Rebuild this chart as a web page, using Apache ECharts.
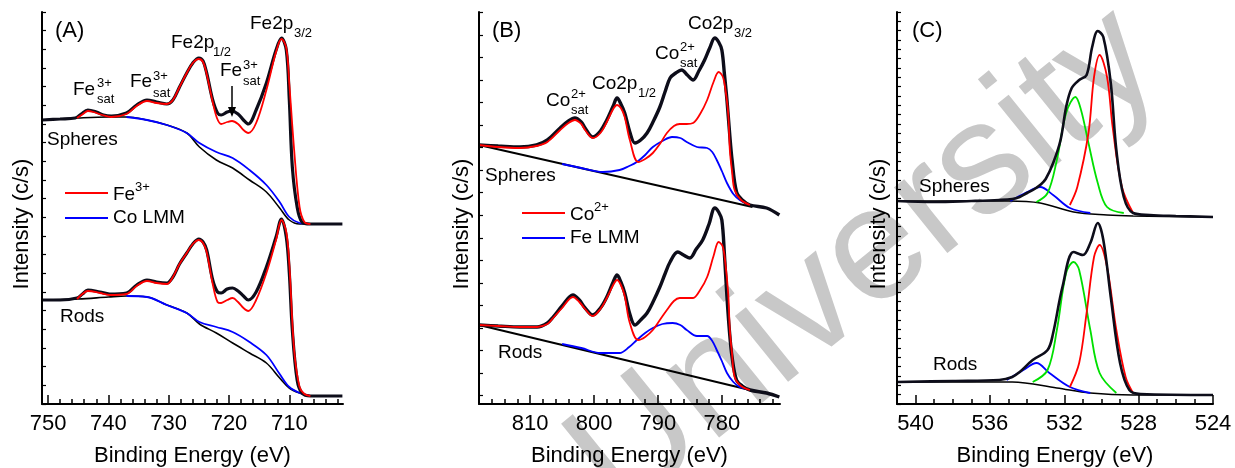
<!DOCTYPE html>
<html><head><meta charset="utf-8">
<script src="https://cdn.jsdelivr.net/npm/echarts@6/dist/echarts.min.js"></script>
<style>html,body{margin:0;padding:0;background:#fff}#c{width:1235px;height:468px}</style>
</head><body><div id="c"></div>
<script>
// ---------- tick labels ----------
const ticksA = [750, 740, 730, 720, 710];
const minorA = [702,704,706,708,712,714,716,718,722,724,726,728,732,734,736,738,742,744,746,748];
const ticksB = [810, 800, 790, 780];
const minorB = [772,774,776,778,782,784,786,788,792,794,796,798,802,804,806,808,812,814,816,818];
const ticksC = [540, 536, 532, 528, 524];
const minorC = [525,526,527,529,530,531,533,534,535,537,538,539,541];

// ---------- Panel A: Fe 2p (eV, intensity a.u.) ----------
const A_sph_exp = [[751,284],[748,285],[745.5,286],[744.5,290],[743.4,294],[742,292],[740.8,289],[739.5,288],[737,291],[735.3,299],[733.6,304],[732,302],[730.3,300],[729.3,304],[728.2,317],[727,331],[726,341],[725,346],[724.3,343],[723.7,331],[722.7,304],[721.9,291],[721.3,289],[720.3,292],[719.5,293],[718.5,290],[717.6,284],[716.8,280],[715.5,294],[713.8,321],[712.2,354],[711.3,366],[710.5,354],[710,304],[709.5,237],[708.7,197],[707.9,182],[706.5,180],[704,180],[701.2,180]];
const A_sph_fit = [[745.2,286],[744.2,290],[743.4,293],[742.5,292],[741,289],[739.5,287],[737,290],[735.3,298],[733.6,303],[732,301],[730.3,300],[729.3,304],[728.2,317],[727,331],[726,341],[725,345],[724.3,342],[723.7,330],[722.7,302],[722,286],[721.3,280],[720.3,282],[719.5,283],[718.5,280],[717.6,274],[716.8,271],[715.5,281],[713.8,314],[712.2,352],[711.3,365],[710.5,356],[710,320],[709.2,254],[708.3,197],[707.5,182],[706.5,180]];
const A_sph_bg  = [[751,284],[745,286],[740,287],[737,287],[733.6,284],[730.3,279],[727,271],[724.9,257],[722.1,244],[719.4,236],[716.6,224],[713.8,212],[711.6,196],[710,184],[708.3,180],[706.5,180]];
const A_sph_lmm = [[737,287],[733.6,284],[730.3,279],[727,271],[724.9,261],[722.1,252],[719.4,246],[716.6,234],[713.8,219],[711.6,202],[710,187],[708.3,181],[706.5,180]];

const A_rod_exp = [[751,104],[748,104],[745.2,106],[744.3,110],[743.4,114],[741.4,112],[739.8,110],[737,111],[735.3,119],[733.6,124],[732,122],[730.3,121],[729.3,127],[728.2,140],[727,151],[726,160],[725,165],[724.3,162],[723.7,154],[722.7,124],[721.9,112],[721.3,111],[720.3,115],[719.4,116],[718.5,113],[717.6,108],[716.8,104],[715.5,112],[713.8,137],[712.2,167],[711.3,185],[710.5,167],[710,131],[709.5,74],[708.7,24],[707.9,11],[706.5,8],[704,8],[701.2,8]];
const A_rod_fit = [[745.2,105],[744.3,110],[743.4,113],[741.4,111],[739.8,109],[737,110],[735.3,118],[733.6,123],[732,121],[730.3,120],[729.3,127],[728.2,140],[727,151],[726,160],[725,164],[724.3,161],[723.7,152],[722.7,120],[721.9,102],[721.3,101],[720.3,104],[719.4,106],[718.5,102],[717.6,96],[716.8,93],[715.5,104],[713.8,131],[712.2,164],[711.3,184],[710.5,172],[710,140],[709.2,54],[708.3,17],[707.5,10],[706.5,8]];
const A_rod_bg  = [[751,104],[745,105],[740,107],[737,108],[733.6,107],[730.3,99],[727,91],[724.9,80],[722.1,71],[719.4,61],[716.6,51],[713.8,41],[711.6,26],[710,16],[708.3,11],[706.5,8]];
const A_rod_lmm = [[737,108],[733.6,107],[730.3,99],[727,91],[724.9,82],[722.1,77],[719.4,72],[716.6,62],[713.8,49],[711.6,30],[710,17],[708.3,11],[706.5,8]];

// ---------- Panel B: Co 2p ----------
const B_sph_exp = [[818,259],[815,258],[811.6,257],[809,259],[807.3,264],[805.3,276],[804,283],[803,286],[802,282],[801.4,276],[800.2,267],[799,273],[798,284],[797,298],[796.4,306],[795.8,300],[795.2,291],[794.4,272],[793.6,261],[792.7,264],[791.7,271],[790.7,283],[789.7,297],[788.9,312],[788.1,326],[787.2,331],[786.3,334],[785.4,329],[784.5,324],[783.6,333],[782.7,344],[781.9,356],[781.1,366],[780.5,362],[780,354],[779.6,330],[779.2,304],[778.8,272],[778.4,244],[777.7,212],[776.8,204],[775.6,199],[773,196],[771,189]];
const B_sph_co  = [[818,259],[815,257],[811.6,256],[809,258],[807.3,262],[805.3,274],[804,281],[803,284],[802,280],[801.4,274],[800.2,266],[799,271],[798,282],[797,295],[796.4,299],[795.8,296],[795.2,287],[794.4,264],[793.1,242],[792,245],[790.8,251],[789.7,260],[788.6,271],[787.5,278],[786.6,280],[785.5,280],[784.5,281],[783.4,290],[782.3,304],[781.3,322],[780.5,332],[779.9,328],[779.5,317],[779,290],[778.75,254],[778.4,232],[778,214],[777,204],[775.6,199]];
const B_sph_lmm = [[805,240],[802,236],[798.6,232],[796,234],[794.5,238],[793.3,242],[792,249],[790.8,257],[789.3,263],[787.8,267],[786.5,266],[785.5,262],[783.9,257],[782.3,256],[781.5,252],[780.8,244],[780,233],[779.2,221],[778.2,210],[777.2,204],[775.6,199]];
const B_sph_bg  = [[818,259],[775.2,197]];

const B_rod_exp = [[818,79],[815,78],[811.6,77],[808.9,77],[807.3,81],[806.4,87],[805,98],[803.3,109],[802.3,104],[801.4,96],[800.2,89],[799,96],[798,107],[797,122],[796.4,129],[795.8,122],[795.2,111],[794.4,90],[793.6,79],[792.7,84],[791.7,91],[790.7,103],[789.7,117],[788.9,130],[788.1,142],[786.9,152],[786,149],[785,146],[784,155],[783,164],[782,180],[781.1,196],[780.5,192],[780,184],[779.6,150],[779.2,107],[778.8,72],[778.4,47],[777.7,24],[776.8,18],[775.6,14],[773,11],[771,7]];
const B_rod_co  = [[818,79],[815,78],[811.6,77],[808.9,77],[807.3,80],[806.4,86],[805,96],[803.3,107],[802.3,102],[801.4,95],[800.2,88],[799,95],[798,106],[797,119],[796.4,124],[795.8,119],[795.2,108],[794.4,81],[793.1,64],[792,67],[790.8,74],[789.7,84],[788.6,94],[787.5,103],[786.6,106],[785.5,106],[784.5,106],[783.4,114],[782.3,127],[781.3,148],[780.5,162],[779.9,158],[779.5,144],[779,110],[778.75,74],[778.4,50],[778,27],[777,18],[775.6,14]];
const B_rod_lmm = [[805,60],[802,56],[799,51],[796,51],[794.5,57],[793.3,64],[792,71],[790.8,76],[789.3,80],[787.7,81],[786.5,79],[785.5,74],[783.9,68],[782.3,68],[781.5,63],[780.8,54],[780,43],[779.2,31],[778.2,22],[777.2,17],[775.6,14]];
const B_rod_bg  = [[818,79],[775.6,14]];

// ---------- Panel C: O 1s ----------
const C_sph_env   = [[541,203],[539,202],[537,203],[535.5,204],[534.8,205],[534.4,207],[534,211],[533.6,215],[533.3,219],[533,225],[532.6,241],[532.2,264],[531.9,297],[531.6,316],[531.2,324],[530.8,329],[530.5,357],[530.2,373],[529.9,367],[529.5,321],[529.2,254],[528.8,207],[528.3,191],[527.4,189],[526,188],[524,187]];
const C_sph_green = [[533.5,202],[532.9,211],[532.4,244],[531.9,291],[531.4,307],[531.1,294],[530.7,261],[530.2,221],[529.7,197],[528.8,191]];
const C_sph_red   = [[531.7,199],[531.3,217],[530.7,271],[530.4,327],[530.1,349],[529.7,327],[529.4,277],[528.9,217],[528.3,191]];
const C_sph_blue  = [[534.9,203],[534.0,212],[533.3,217],[532.6,209],[531.7,196],[530.6,191]];
const C_sph_bg    = [[541,203],[535,203],[533.3,201],[531.5,192],[529.7,189],[528.3,188],[524,187]];

const C_rod_env   = [[541,22],[538,23],[535.5,24],[534.8,27],[534.4,32],[533.7,44],[532.9,54],[532.6,71],[532.1,117],[531.5,152],[531,149],[530.6,161],[530.2,181],[529.9,164],[529.5,107],[529,41],[528.5,14],[527.9,10],[524,9]];
const C_rod_green = [[533.7,22],[532.9,34],[532.4,74],[531.9,131],[531.5,142],[531.2,134],[530.6,74],[530.1,31],[529.2,11]];
const C_rod_red   = [[531.7,17],[531.2,41],[530.8,91],[530.4,147],[530.1,159],[529.7,137],[529.2,74],[528.7,27],[528.3,11]];
const C_rod_blue  = [[535.1,24],[534.2,34],[533.5,41],[532.8,31],[531.7,17],[530.6,11]];
const C_rod_bg    = [[541,22],[534.8,22],[532.4,16],[530.6,11],[528.3,9],[524,9]];

// ---------- build ----------
const FONT = '"Liberation Sans", Arial, sans-serif';
const YMAX = 392;
function yt(start, step, max){ const a=[]; for(let v=start; v<=max+0.01; v+=step) a.push(+v.toFixed(2)); return a; }
const yTicks = [yt(0, 392/21, YMAX), yt(8.5, 22.53, YMAX), yt(0, 392/42, YMAX)];

const grids = [
  {left:42, top:12, width:301, height:392},
  {left:479, top:12, width:301, height:392},
  {left:897, top:12, width:316, height:392}
];
const ranges = [[701.1,751],[770.9,818],[524,541]];
const majors = [ticksA, ticksB, ticksC];
const minors = [minorA, minorB, minorC];

const xAxis = [], yAxis = [];
for (let i=0;i<3;i++){
  xAxis.push({type:'value', gridIndex:i, position:'bottom', inverse:true, min:ranges[i][0], max:ranges[i][1], z:10,
    axisLine:{show:true, onZero:false, lineStyle:{color:'#000', width:2}},
    axisTick:{show:true, inside:true, length:9, customValues:majors[i], lineStyle:{color:'#000', width:1.5}},
    axisLabel:{customValues:majors[i], fontSize:22, color:'#000', fontFamily:FONT, margin:9},
    splitLine:{show:false}});
  xAxis.push({type:'value', gridIndex:i, position:'bottom', inverse:true, min:ranges[i][0], max:ranges[i][1], z:10,
    axisLine:{show:false, onZero:false},
    axisTick:{show:true, inside:true, length:5, customValues:minors[i], lineStyle:{color:'#000', width:1.5}},
    axisLabel:{show:false}, splitLine:{show:false}});
  yAxis.push({type:'value', gridIndex:i, min:0, max:YMAX, z:10,
    axisLine:{show:true, onZero:false, lineStyle:{color:'#000', width:2}},
    axisTick:{show:true, inside:true, length:4, customValues:yTicks[i], lineStyle:{color:'#000', width:1.2}},
    axisLabel:{show:false}, splitLine:{show:false}});
}

function S(panel, data, color, width, z){
  return {type:'line', xAxisIndex:panel*2, yAxisIndex:panel, data:data, showSymbol:false, symbol:'none',
    smooth:0.35, lineStyle:{color:color, width:width}, z:z||2, silent:true};
}
const RED='#ff0000', BLUE='#0000ff', GREEN='#00e000', BLK='#000000', EXP='#0d0d1a';
const series = [
  S(0,A_sph_bg,BLK,1.6,2), S(0,A_sph_lmm,BLUE,1.8,3), S(0,A_sph_exp,EXP,3.2,4), S(0,A_sph_fit,RED,1.8,5),
  S(0,A_rod_bg,BLK,1.6,2), S(0,A_rod_lmm,BLUE,1.8,3), S(0,A_rod_exp,EXP,3.2,4), S(0,A_rod_fit,RED,1.8,5),
  S(1,B_sph_bg,BLK,1.8,2), S(1,B_sph_lmm,BLUE,1.8,3), S(1,B_sph_exp,EXP,3.4,4), S(1,B_sph_co,RED,1.8,5),
  S(1,B_rod_bg,BLK,1.8,2), S(1,B_rod_lmm,BLUE,1.8,3), S(1,B_rod_exp,EXP,3.4,4), S(1,B_rod_co,RED,1.8,5),
  S(2,C_sph_bg,BLK,1.5,2), S(2,C_sph_blue,BLUE,1.8,3), S(2,C_sph_green,GREEN,1.8,3), S(2,C_sph_red,RED,1.8,3), S(2,C_sph_env,EXP,2.6,4),
  S(2,C_rod_bg,BLK,1.5,2), S(2,C_rod_blue,BLUE,1.8,3), S(2,C_rod_green,GREEN,1.8,3), S(2,C_rod_red,RED,1.8,3), S(2,C_rod_env,EXP,2.6,4)
];

function T(x,y,text,size,opts){
  opts=opts||{};
  return {type:'text', x:x, y:y, rotation:opts.rot||0, z:100, silent:true,
    style:{text:text, font:(size)+'px '+FONT, fill:opts.fill||'#000',
      textAlign:opts.align||'left', textVerticalAlign:'middle'}};
}
function L(x1,y1,x2,y2,color,w){ return {type:'line', z:100, silent:true, shape:{x1:x1,y1:y1,x2:x2,y2:y2}, style:{stroke:color, lineWidth:w}}; }
const M=19, SM=13;
const graphic = [
  // watermark
  {type:'text', x:866, y:262, rotation:0.68, z:1, silent:true,
   style:{text:'University', font:'160px '+FONT, fill:'#c8c8c8', textAlign:'center', textVerticalAlign:'middle'}},
  // panel A
  T(55,31,'(A)',22),
  T(250,24,'Fe2p',M), T(294,33,'3/2',SM),
  T(171,43,'Fe2p',M), T(213,52,'1/2',SM),
  T(73,90,'Fe',M), T(97,83,'3+',SM), T(97,99,'sat',SM),
  T(130,82,'Fe',M), T(153,76,'3+',SM), T(153,93,'sat',SM),
  T(220,71,'Fe',M), T(243,65,'3+',SM), T(243,81,'sat',SM),
  L(232,86,232,110,'#000',1.5),
  {type:'polygon', z:100, silent:true, shape:{points:[[228,107],[236,107],[232,117]]}, style:{fill:'#000'}},
  T(47,140,'Spheres',M),
  L(65,193,108,193,RED,2), T(113,195,'Fe',M), T(135,187,'3+',SM),
  L(65,218,108,218,BLUE,2), T(113,218,'Co LMM',M),
  T(60,317,'Rods',M),
  T(192.5,456,'Binding Energy (eV)',22,{align:'center'}),
  T(21.5,224,'Intensity (c/s)',22,{align:'center',rot:Math.PI/2}),
  // panel B
  T(492,31,'(B)',22),
  T(688,24,'Co2p',M), T(734,33,'3/2',SM),
  T(655,54,'Co',M), T(680,47,'2+',SM), T(680,63,'sat',SM),
  T(592,84,'Co2p',M), T(638,93,'1/2',SM),
  T(546,101,'Co',M), T(571,94,'2+',SM), T(571,110,'sat',SM),
  T(485,176,'Spheres',M),
  L(522,213,565,213,RED,2), T(570,215,'Co',M), T(594,207,'2+',SM),
  L(522,238,565,238,BLUE,2), T(570,238,'Fe LMM',M),
  T(498,353,'Rods',M),
  T(629.5,456,'Binding Energy (eV)',22,{align:'center'}),
  T(461.5,224,'Intensity (c/s)',22,{align:'center',rot:Math.PI/2}),
  // panel C
  T(912,31,'(C)',22),
  T(919,187,'Spheres',M),
  T(933,365,'Rods',M),
  T(1055,456,'Binding Energy (eV)',22,{align:'center'}),
  T(879,224,'Intensity (c/s)',22,{align:'center',rot:Math.PI/2})
];

const chart = echarts.init(document.getElementById('c'), null, {renderer:'canvas'});
chart.setOption({animation:false, backgroundColor:'#fff', grid:grids, xAxis:xAxis, yAxis:yAxis, series:series, graphic:graphic});
</script></body></html>
